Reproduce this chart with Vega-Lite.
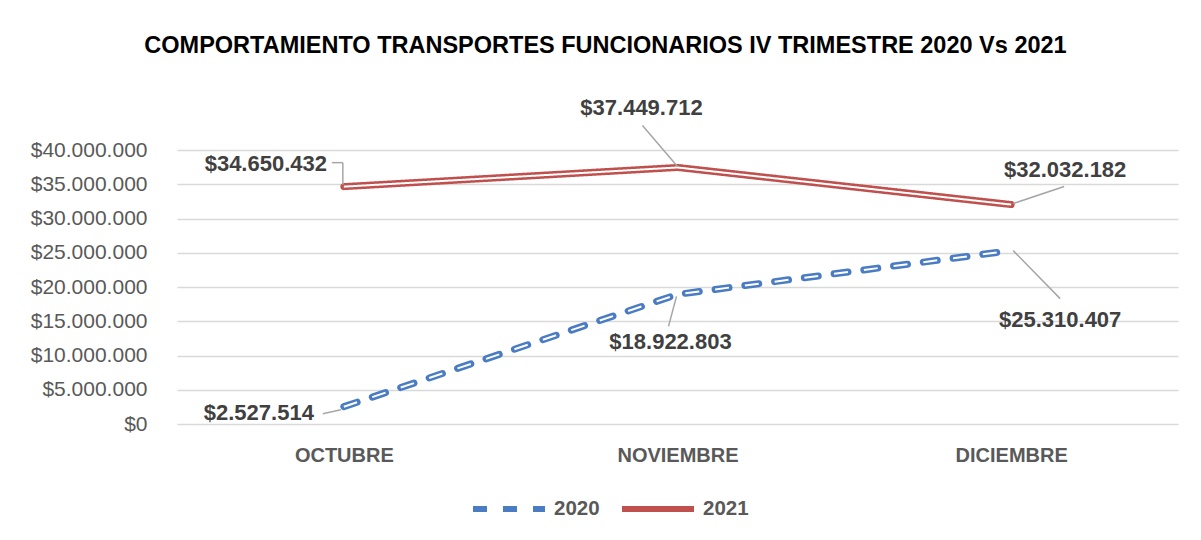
{
  "$schema": "https://vega.github.io/schema/vega-lite/v6.json",
  "autosize": {"type": "none"},
  "width": 1001,
  "height": 274,
  "padding": {"left": 177, "top": 150, "right": 23, "bottom": 116},
  "background": "white",
  "config": {
    "locale": {"number": {"decimal": ",", "thousands": ".", "grouping": [3], "currency": ["$", ""]}},
    "font": "Liberation Sans",
    "view": {"stroke": null}
  },
  "title": {
    "text": "COMPORTAMIENTO TRANSPORTES FUNCIONARIOS IV TRIMESTRE 2020 Vs 2021",
    "fontSize": 23.5,
    "fontWeight": "bold",
    "color": "#000000",
    "anchor": "middle",
    "dx": -72,
    "offset": 40
  },
  "data": {
    "values": [
      {"month": "OCTUBRE", "year": "2020", "value": 2527514},
      {"month": "NOVIEMBRE", "year": "2020", "value": 18922803},
      {"month": "DICIEMBRE", "year": "2020", "value": 25310407},
      {"month": "OCTUBRE", "year": "2021", "value": 34650432},
      {"month": "NOVIEMBRE", "year": "2021", "value": 37449712},
      {"month": "DICIEMBRE", "year": "2021", "value": 32032182}
    ]
  },
  "encoding": {
    "x": {
      "field": "month", "type": "nominal", "sort": ["OCTUBRE", "NOVIEMBRE", "DICIEMBRE"],
      "scale": {"type": "point", "padding": 0.5},
      "axis": {"title": null, "domain": false, "ticks": false, "labelAngle": 0, "labelFontSize": 20, "labelFontWeight": "bold", "labelColor": "#595959", "labelPadding": 21}
    },
    "y": {
      "field": "value", "type": "quantitative",
      "scale": {"domain": [0, 40000000]},
      "axis": {"title": null, "domain": false, "ticks": false, "values": [0, 5000000, 10000000, 15000000, 20000000, 25000000, 30000000, 35000000, 40000000], "format": "$,.0f", "labelFontSize": 21, "labelColor": "#595959", "labelPadding": 30, "gridColor": "#D9D9D9", "gridWidth": 1.5}
    }
  },
  "layer": [
    {
      "mark": {"type": "line", "strokeWidth": 7, "strokeCap": "round", "strokeJoin": "round"},
      "encoding": {
        "color": {"field": "year", "type": "nominal", "scale": {"domain": ["2020", "2021"], "range": ["#4A7CC4", "#C0504D"]},
          "legend": {"title": null, "orient": "none", "legendX": 293, "legendY": 320, "direction": "horizontal", "symbolType": "stroke", "symbolSize": 5184, "symbolStrokeWidth": 6, "labelFontSize": 20.5, "labelFontWeight": "bold", "labelColor": "#595959", "labelOffset": 6, "columnPadding": 10}},
        "strokeDash": {"field": "year", "type": "nominal", "scale": {"domain": ["2020", "2021"], "range": [[14, 16], [1, 0]]}, "legend": {"title": null, "orient": "none", "legendX": 293, "legendY": 320, "direction": "horizontal", "symbolType": "stroke", "symbolSize": 5184, "symbolStrokeWidth": 6, "labelFontSize": 20.5, "labelFontWeight": "bold", "labelColor": "#595959", "labelOffset": 6, "columnPadding": 10}}
      }
    },
    {
      "mark": {"type": "line", "strokeWidth": 2, "color": "white", "strokeJoin": "round"},
      "encoding": {
        "detail": {"field": "year", "type": "nominal"},
        "strokeDash": {"field": "year", "type": "nominal", "legend": null}
      }
    },
    {
      "transform": [{"filter": "datum.year == '2021' && datum.month == 'OCTUBRE'"}],
      "mark": {"type": "text", "fontSize": 22, "fontWeight": "bold", "color": "#404040", "align": "center", "baseline": "middle", "dx": -78, "dy": -23},
      "encoding": {"text": {"field": "value", "type": "quantitative", "format": "$,.0f"}}
    },
    {
      "transform": [{"filter": "datum.year == '2021' && datum.month == 'NOVIEMBRE'"}],
      "mark": {"type": "text", "fontSize": 22, "fontWeight": "bold", "color": "#404040", "align": "center", "baseline": "middle", "dx": -36, "dy": -59},
      "encoding": {"text": {"field": "value", "type": "quantitative", "format": "$,.0f"}}
    },
    {
      "transform": [{"filter": "datum.year == '2021' && datum.month == 'DICIEMBRE'"}],
      "mark": {"type": "text", "fontSize": 22, "fontWeight": "bold", "color": "#404040", "align": "center", "baseline": "middle", "dx": 54, "dy": -35},
      "encoding": {"text": {"field": "value", "type": "quantitative", "format": "$,.0f"}}
    },
    {
      "transform": [{"filter": "datum.year == '2020' && datum.month == 'OCTUBRE'"}],
      "mark": {"type": "text", "fontSize": 22, "fontWeight": "bold", "color": "#404040", "align": "center", "baseline": "middle", "dx": -85, "dy": 6},
      "encoding": {"text": {"field": "value", "type": "quantitative", "format": "$,.0f"}}
    },
    {
      "transform": [{"filter": "datum.year == '2020' && datum.month == 'NOVIEMBRE'"}],
      "mark": {"type": "text", "fontSize": 22, "fontWeight": "bold", "color": "#404040", "align": "center", "baseline": "middle", "dx": -7, "dy": 48},
      "encoding": {"text": {"field": "value", "type": "quantitative", "format": "$,.0f"}}
    },
    {
      "transform": [{"filter": "datum.year == '2020' && datum.month == 'DICIEMBRE'"}],
      "mark": {"type": "text", "fontSize": 22, "fontWeight": "bold", "color": "#404040", "align": "center", "baseline": "middle", "dx": 49, "dy": 69},
      "encoding": {"text": {"field": "value", "type": "quantitative", "format": "$,.0f"}}
    },
    {
      "transform": [{"filter": "datum.year == '2021' && datum.month == 'OCTUBRE'"}],
      "mark": {"type": "rule", "color": "#A6A6A6", "strokeWidth": 1.5, "xOffset": -1, "yOffset": -2, "x2Offset": -1, "y2Offset": -24},
      "encoding": {"x2": {"field": "month"}, "y2": {"field": "value"}}
    },
    {
      "transform": [{"filter": "datum.year == '2021' && datum.month == 'OCTUBRE'"}],
      "mark": {"type": "rule", "color": "#A6A6A6", "strokeWidth": 1.5, "xOffset": -1, "yOffset": -24, "x2Offset": -12, "y2Offset": -24},
      "encoding": {"x2": {"field": "month"}, "y2": {"field": "value"}}
    },
    {
      "transform": [{"filter": "datum.year == '2021' && datum.month == 'NOVIEMBRE'"}],
      "mark": {"type": "rule", "color": "#A6A6A6", "strokeWidth": 1.5, "xOffset": 0, "yOffset": -1, "x2Offset": -35, "y2Offset": -42},
      "encoding": {"x2": {"field": "month"}, "y2": {"field": "value"}}
    },
    {
      "transform": [{"filter": "datum.year == '2021' && datum.month == 'DICIEMBRE'"}],
      "mark": {"type": "rule", "color": "#A6A6A6", "strokeWidth": 1.5, "xOffset": 2, "yOffset": -1, "x2Offset": 53, "y2Offset": -18},
      "encoding": {"x2": {"field": "month"}, "y2": {"field": "value"}}
    },
    {
      "transform": [{"filter": "datum.year == '2020' && datum.month == 'OCTUBRE'"}],
      "mark": {"type": "rule", "color": "#A6A6A6", "strokeWidth": 1.5, "xOffset": -3, "yOffset": 3, "x2Offset": -21, "y2Offset": 7},
      "encoding": {"x2": {"field": "month"}, "y2": {"field": "value"}}
    },
    {
      "transform": [{"filter": "datum.year == '2020' && datum.month == 'NOVIEMBRE'"}],
      "mark": {"type": "rule", "color": "#A6A6A6", "strokeWidth": 1.5, "xOffset": -1, "yOffset": 2, "x2Offset": -9, "y2Offset": 32},
      "encoding": {"x2": {"field": "month"}, "y2": {"field": "value"}}
    },
    {
      "transform": [{"filter": "datum.year == '2020' && datum.month == 'DICIEMBRE'"}],
      "mark": {"type": "rule", "color": "#A6A6A6", "strokeWidth": 1.5, "xOffset": 2, "yOffset": 0, "x2Offset": 49, "y2Offset": 48},
      "encoding": {"x2": {"field": "month"}, "y2": {"field": "value"}}
    }
  ]
}
